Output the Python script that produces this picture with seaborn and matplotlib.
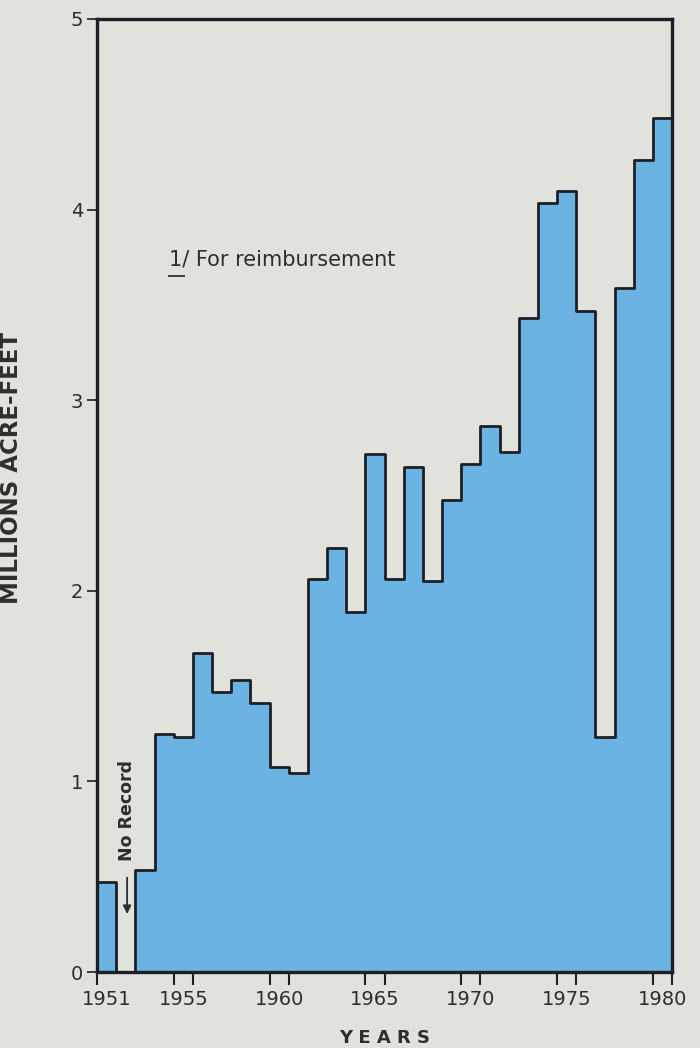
import numpy as np
import pandas as pd
import matplotlib
matplotlib.use("Agg")
import matplotlib.pyplot as plt
import seaborn as sns

# ---- data (millions of acre-feet per year) ----
years = list(range(1951, 1981))
values = [0.47, 0.0, 0.535, 1.25, 1.235, 1.675, 1.47, 1.53, 1.41, 1.075,
          1.045, 2.06, 2.225, 1.89, 2.72, 2.06, 2.65, 2.05, 2.475, 2.665,
          2.865, 2.73, 3.43, 4.035, 4.10, 3.47, 1.235, 3.59, 4.26, 4.48]
tick_labels = ["1951", "1955", "1960", "1965", "1970", "1975", "1980"]
label_years = [1951, 1955, 1960, 1965, 1970, 1975, 1980]
edge_tick_years = [1951, 1955, 1956, 1960, 1961, 1965, 1966, 1970, 1971,
                   1975, 1976, 1980, 1981]
y_ticks = [0, 1, 2, 3, 4, 5]

BG = "#e1e2dc"
BLUE = "#6ab3e3"
INK = "#1c1f26"
TXT = "#2e2e2e"

sns.set_style("white")
plt.rcParams["font.family"] = ["DejaVu Sans"]

fig = plt.figure(figsize=(7.0, 10.48), dpi=100, facecolor=BG)
ax = fig.add_axes([0.1386, 0.0725, 0.96 - 0.1386, 0.9819 - 0.0725])
ax.set_facecolor(BG)

df = pd.DataFrame({"year": [y + 0.5 for y in years], "value": values})
sns.histplot(data=df, x="year", weights="value",
             binwidth=1, binrange=(1951, 1981), element="step", fill=True,
             color=BLUE, alpha=1.0, edgecolor=INK, linewidth=2.0, ax=ax)

ax.set_xlim(1951, 1981)
ax.set_ylim(0, 5)

for s in ax.spines.values():
    s.set_visible(True)
    s.set_color(INK)
    s.set_linewidth(2.4)

# x ticks: bin edge marks + centred year labels
ax.set_xticks(edge_tick_years)
ax.set_xticklabels([""] * len(edge_tick_years))
ax.set_xticks([y + 0.5 for y in label_years], minor=True)
ax.set_xticklabels(tick_labels, minor=True)
ax.tick_params(axis="x", which="major", direction="out", length=9,
               width=1.5, color=INK, bottom=True)
ax.tick_params(axis="x", which="minor", length=0, pad=13,
               labelsize=14, labelcolor=TXT)

ax.set_yticks(y_ticks)
ax.set_yticklabels([str(v) for v in y_ticks])
ax.tick_params(axis="y", direction="out", length=7, width=1.2,
               color=INK, left=True, labelsize=14, labelcolor=TXT, pad=3)

ax.set_xlabel("Y E A R S", fontsize=13, fontweight="bold", color=TXT,
              labelpad=14)
ax.set_ylabel("MILLIONS ACRE-FEET", fontsize=16.5, fontweight="bold",
              color=TXT)
ax.yaxis.set_label_coords(-0.128, 0.529)

# footnote text
ax.text(1954.75, 3.74, "1/ For reimbursement", fontsize=15, color=TXT,
        ha="left", va="center")
ax.plot([1954.72, 1955.6], [3.65, 3.65], color=TXT, lw=1.3,
        solid_capstyle="butt")

# no record annotation
ax.text(1952.57, 0.85, "No Record", rotation=90, fontsize=12.5,
        fontweight="bold", color=TXT, ha="center", va="center")
ax.annotate("", xy=(1952.57, 0.29), xytext=(1952.57, 0.51),
            arrowprops=dict(arrowstyle="-|>", color=TXT, lw=1.3,
                            mutation_scale=12))

fig.savefig("out.png", dpi=100, facecolor=BG)
